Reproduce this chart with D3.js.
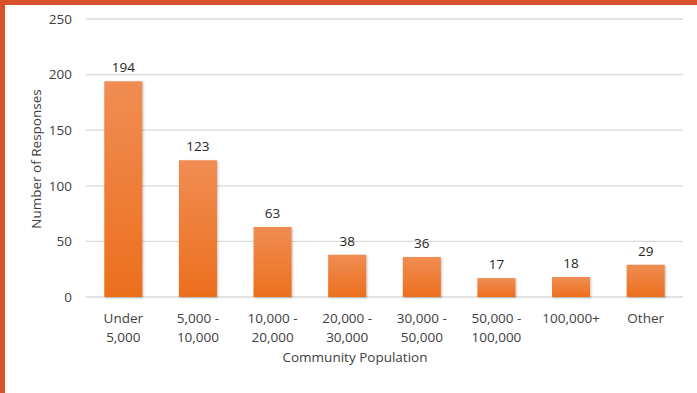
<!DOCTYPE html>
<html><head><meta charset="utf-8">
<script src="https://cdn.jsdelivr.net/npm/d3@7"></script>
<style>html,body{margin:0;padding:0;background:#fff;}svg{display:block;}</style>
</head><body>
<script>
const categories = [["Under","5,000"],["5,000 -","10,000"],["10,000 -","20,000"],["20,000 -","30,000"],["30,000 -","50,000"],["50,000 -","100,000"],["100,000+"],["Other"]];
const values = [194,123,63,38,36,17,18,29];
const yTicks = [0,50,100,150,200,250];
const xTitle = "Community Population";
const yTitle = "Number of Responses";

const W=697,H=393;
const svg=d3.select("body").append("svg").attr("width",W).attr("height",H);
const font="'Open Sans', sans-serif";
const defs=svg.append("defs");
const g=defs.append("linearGradient").attr("id","bg").attr("x1",0).attr("y1",0).attr("x2",0).attr("y2",1);
g.append("stop").attr("offset","0%").attr("stop-color","#F08D53");
g.append("stop").attr("offset","100%").attr("stop-color","#EC6F1E");
const f=defs.append("filter").attr("id","sh").attr("x","-20%").attr("y","-20%").attr("width","140%").attr("height","140%");
f.append("feDropShadow").attr("dx",1).attr("dy",1).attr("stdDeviation",1).attr("flood-color","#000").attr("flood-opacity",0.25);

// border
svg.append("rect").attr("x",0).attr("y",0).attr("width",W).attr("height",5).attr("fill","#D9512B");
svg.append("rect").attr("x",0).attr("y",0).attr("width",5).attr("height",H).attr("fill","#D9512B");

const x=d3.scaleBand().domain(d3.range(values.length)).range([86,683]).paddingInner(0.49).paddingOuter(0.245);
const y=d3.scaleLinear().domain([0,250]).range([297,19]);

svg.append("g").selectAll("line").data(yTicks).join("line")
 .attr("x1",86).attr("x2",683).attr("y1",d=>y(d)).attr("y2",d=>y(d))
 .attr("stroke","#D9D9D9").attr("stroke-width",1.3);

const yAxis=svg.append("g").attr("transform","translate(86,0)").call(d3.axisLeft(y).tickValues(yTicks).tickSize(0).tickPadding(14));
yAxis.select(".domain").remove();
yAxis.selectAll("text").attr("font-family",font).attr("font-size",13.5).attr("fill","#404040");

svg.append("g").selectAll("rect").data(values).join("rect")
 .attr("x",(d,i)=>x(i)).attr("width",x.bandwidth())
 .attr("y",d=>y(d)).attr("height",d=>y(0)-y(d))
 .attr("fill","url(#bg)").attr("filter","url(#sh)");

svg.append("g").selectAll("text").data(values).join("text")
 .attr("x",(d,i)=>x(i)+x.bandwidth()/2).attr("y",d=>y(d)-9)
 .attr("text-anchor","middle").attr("font-family",font).attr("font-size",13.5).attr("fill","#262626")
 .text(d=>d);

const xl=svg.append("g").selectAll("text").data(categories).join("text")
 .attr("x",(d,i)=>x(i)+x.bandwidth()/2).attr("y",323)
 .attr("text-anchor","middle").attr("font-family",font).attr("font-size",13.5).attr("fill","#404040");
xl.each(function(d){
  const t=d3.select(this);
  d.forEach((s,k)=>t.append("tspan").attr("x",t.attr("x")).attr("dy",k?19:0).text(s));
});

svg.append("text").attr("x",355).attr("y",362).attr("text-anchor","middle")
 .attr("font-family",font).attr("font-size",13.5).attr("fill","#404040").text(xTitle);
svg.append("text").attr("transform","translate(41,159) rotate(-90)").attr("text-anchor","middle")
 .attr("font-family",font).attr("font-size",13.5).attr("fill","#404040").text(yTitle);
</script>
</body></html>
